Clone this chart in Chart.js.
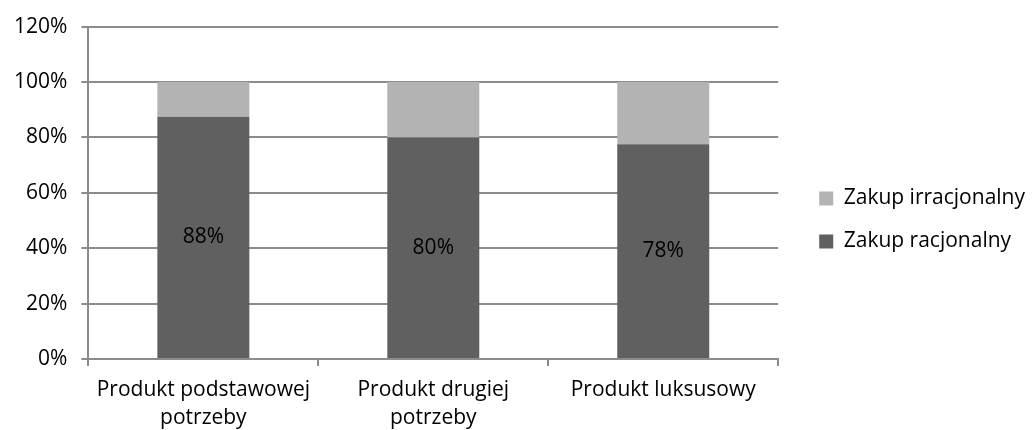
<!DOCTYPE html>
<html>
<head>
<meta charset="utf-8">
<script src="https://cdn.jsdelivr.net/npm/chart.js@4"></script>
<style>
  html, body { margin: 0; padding: 0; background: #fff; }
  #wrap { width: 1032px; height: 430px; }
</style>
</head>
<body>
<div id="wrap"><canvas id="chart" width="1032" height="430"></canvas></div>
<script>
// dane z wykresu
const categories = [
    ['Produkt podstawowej', 'potrzeby'],
    ['Produkt drugiej', 'potrzeby'],
    ['Produkt luksusowy']
];
const racjonalny = [87.5, 80, 77.5];
const irracjonalny = [12.5, 20, 22.5];
const yTicks = [0, 20, 40, 60, 80, 100, 120];

const FONT = "'Open Sans', 'Liberation Sans', sans-serif";
const LEGEND_GAP = 16; // dodatkowy odstęp między wykresem a legendą
const X_LABEL_SHIFT = 6; // etykiety osi X rysowane nieco niżej

// etykiety wartości w ciemnych słupkach
const valueLabels = {
    id: 'valueLabels',
    afterDatasetsDraw(chart) {
        const ctx = chart.ctx;
        const meta = chart.getDatasetMeta(0);
        ctx.save();
        ctx.font = '21px ' + FONT;
        ctx.fillStyle = '#000';
        ctx.textAlign = 'center';
        ctx.textBaseline = 'middle';
        meta.data.forEach((bar, i) => {
            const midY = (bar.y + bar.base) / 2;
            ctx.fillText(Math.round(racjonalny[i]) + '%', bar.x, midY);
        });
        ctx.restore();
    }
};

// poszerza miejsce na legendę, ale rysuje ją przy prawej krawędzi
const layoutTweaks = {
    id: 'layoutTweaks',
    beforeLayout(chart) {
        const lg = chart.legend;
        if (lg && !lg._gapPatched) {
            const origFit = lg.fit.bind(lg);
            lg.fit = function () {
                origFit();
                this.width += LEGEND_GAP;
            };
            lg._gapPatched = true;
        }
    },
    afterLayout(chart) {
        if (chart.legend) {
            chart.legend.left += LEGEND_GAP + 3;
            chart.legend.top += 5;
        }
        const xs = chart.scales.x;
        if (xs && !xs._shiftPatched) {
            const origLabels = xs.drawLabels.bind(xs);
            xs.drawLabels = function (area) {
                const ctx = this.ctx;
                ctx.save();
                ctx.translate(0, X_LABEL_SHIFT);
                origLabels(area);
                ctx.restore();
            };
            xs._shiftPatched = true;
        }
    }
};

new Chart(document.getElementById('chart'), {
    type: 'bar',
    data: {
        labels: categories,
        datasets: [
            {
                label: 'Zakup racjonalny',
                data: racjonalny,
                backgroundColor: '#606060',
                borderWidth: 0,
                barPercentage: 0.4,
                categoryPercentage: 1.0
            },
            {
                label: 'Zakup irracjonalny',
                data: irracjonalny,
                backgroundColor: '#b3b3b3',
                borderWidth: 0,
                barPercentage: 0.4,
                categoryPercentage: 1.0
            }
        ]
    },
    options: {
        responsive: false,
        animation: false,
        layout: { padding: { top: 5, right: 0, left: 0, bottom: 0 } },
        plugins: {
            tooltip: { enabled: false },
            legend: {
                position: 'right',
                reverse: true,
                labels: {
                    font: { family: FONT, size: 21 },
                    color: '#000',
                    boxWidth: 14,
                    boxHeight: 14,
                    padding: 22
                }
            }
        },
        scales: {
            x: {
                stacked: true,
                grid: {
                    offset: true,
                    drawOnChartArea: false,
                    drawTicks: true,
                    tickLength: 7,
                    color: '#8c8c8c',
                    lineWidth: 2
                },
                border: { color: '#8c8c8c', width: 2 },
                ticks: {
                    font: { family: FONT, size: 21, lineHeight: 1.38 },
                    color: '#000',
                    maxRotation: 0,
                    padding: 3
                }
            },
            y: {
                stacked: true,
                min: 0,
                max: 120,
                afterBuildTicks(axis) {
                    axis.ticks = yTicks.map(v => ({ value: v }));
                },
                grid: {
                    color: '#8c8c8c',
                    lineWidth: 2,
                    tickLength: 7
                },
                border: { color: '#8c8c8c', width: 2 },
                ticks: {
                    font: { family: FONT, size: 21 },
                    color: '#000',
                    padding: 14,
                    callback: v => v + '%'
                }
            }
        }
    },
    plugins: [valueLabels, layoutTweaks]
});
</script>
</body>
</html>
